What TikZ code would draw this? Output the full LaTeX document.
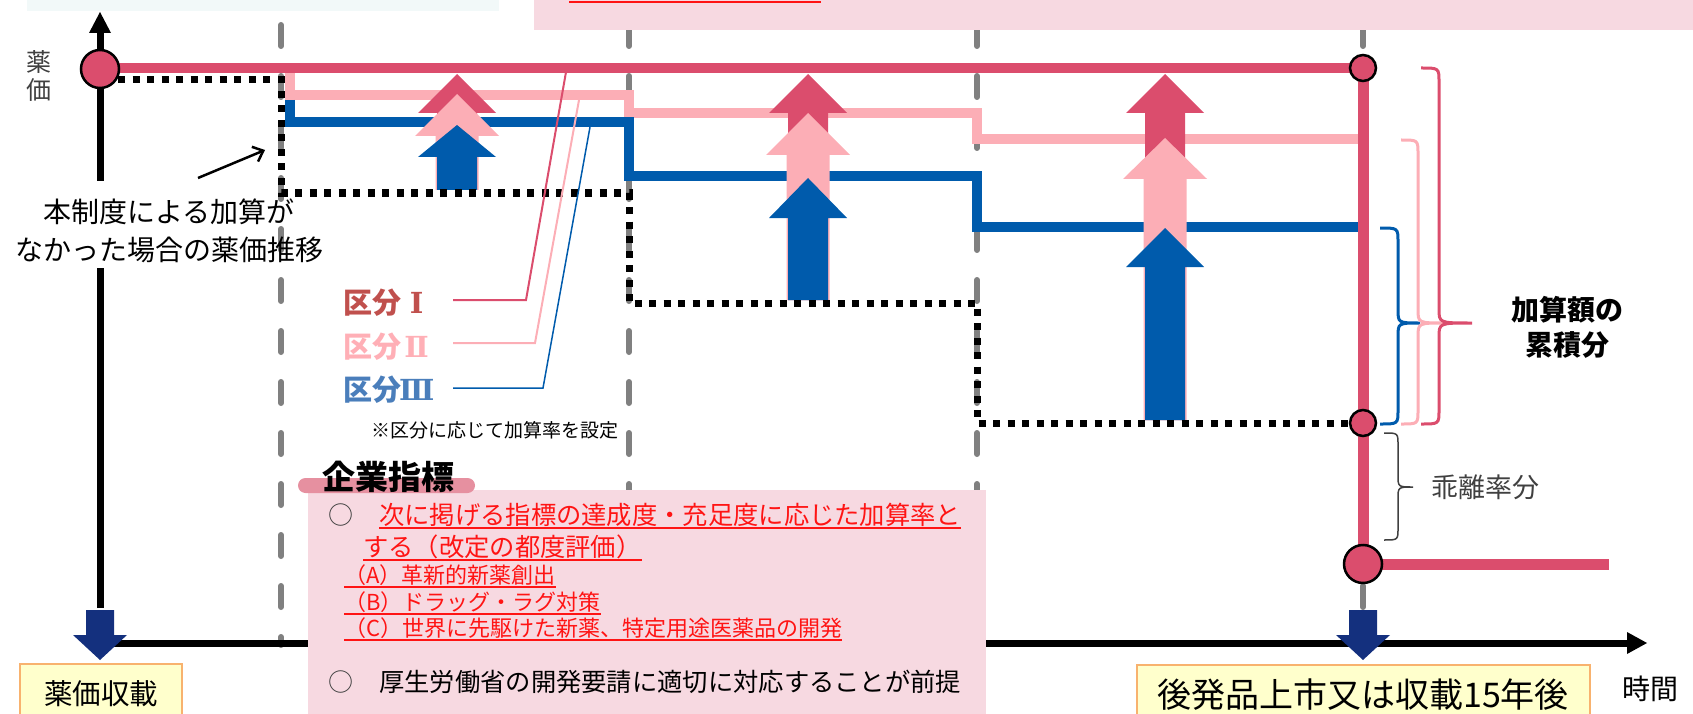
\documentclass[tikz,border=0pt]{standalone}
\usepackage{fontspec}
\setmainfont{Noto Sans CJK JP}
\newfontfamily\numfont{DejaVu Serif}
\usetikzlibrary{arrows.meta}
\definecolor{cRed}{RGB}{219,77,109}
\definecolor{cPink}{RGB}{252,174,182}
\definecolor{cBlue}{RGB}{0,91,172}
\definecolor{cNavy}{RGB}{20,48,126}
\definecolor{cGray}{RGB}{128,128,128}
\definecolor{cBoxPink}{RGB}{247,217,225}
\definecolor{cTab}{RGB}{230,144,160}
\definecolor{cCyan}{RGB}{242,249,249}
\definecolor{cYellow}{RGB}{255,255,204}
\definecolor{cOrange}{RGB}{248,178,110}
\definecolor{cLblRed}{RGB}{192,80,77}
\definecolor{cLblPink}{RGB}{255,175,182}
\definecolor{cLblBlue}{RGB}{74,126,187}
\definecolor{cTxtRed}{RGB}{255,20,20}
\definecolor{cDark}{RGB}{64,64,64}
\newcommand{\myfs}[2]{\fontsize{#1pt}{#2pt}\selectfont}
\newcommand{\rnum}[1]{\makebox[31pt][c]{\numfont\bfseries #1}}
\newcommand{\stackarrow}[7]{%
  \fill[#7] (#1-#6,#4) -- (#1-#6,#3) -- (#1-#5,#3) -- (#1,#2) -- (#1+#5,#3) -- (#1+#6,#3) -- (#1+#6,#4) -- cycle;}
\newcommand{\mybrace}[8]{%
  \draw[#1] (#2,#5) .. controls (#3,#5) .. (#3,#5+#8) -- (#3,#6-#8) .. controls (#3,#6) .. (#4,#6)
    .. controls (#3,#6) .. (#3,#6+#8) -- (#3,#7-#8) .. controls (#3,#7) .. (#2,#7);}
\tikzset{
  guide/.style={cGray, line width=6pt, line cap=round, dash pattern=on 21pt off 30pt},
  stepline/.style={line width=10pt},
  dotline/.style={black, line width=7pt, dash pattern=on 7pt off 7.5pt},
  dot/.style={fill=cRed, draw=black, line width=2.5pt},
  leader/.style={line width=2pt},
  lbl/.style={font={\myfs{29}{32}\bfseries}, anchor=west, inner sep=0pt},
  ybox/.style={fill=cYellow, draw=cOrange, line width=2pt, inner sep=0pt},
  bodytxt/.style={anchor=west, inner sep=0pt},
}
\begin{document}
\begin{tikzpicture}[x=1pt,y=-1pt]
\useasboundingbox (0,0) rectangle (1693,714);
% dashed guide lines
\foreach \gx in {281,629,977,1363} \draw[guide] (\gx,25) -- (\gx,645);
% top boxes
\fill[cCyan] (27,0) rectangle (499,11);
\fill[cBoxPink] (534,0) rectangle (1693,30);
\draw[cTxtRed, line width=1.5pt] (569,2) -- (821,2);
% axes
\draw[line width=7pt] (100,608) -- (100,268);
\draw[line width=7pt] (100,181) -- (100,30);
\fill (89,33) -- (100,12) -- (111,33) -- cycle;
\draw[line width=7pt] (100,643) -- (1630,643);
\fill (1627,632) -- (1647,643) -- (1627,654) -- cycle;
% step lines
\draw[stepline, cPink] (290,73) -- (290,95) -- (629,95) -- (629,113) -- (977,113) -- (977,139) -- (1358,139);
\draw[stepline, cBlue] (290,100) -- (290,122) -- (629,122) -- (629,176) -- (977,176) -- (977,227) -- (1358,227);
\draw[stepline, cRed] (100,68) -- (1363,68);
\draw[cRed, line width=11pt] (1363,68) -- (1363,564) -- (1609,564);
% up arrows
\stackarrow{457}{74}{113}{190}{39}{20}{cRed}
\stackarrow{457}{94}{136}{190}{42}{21.5}{cPink}
\stackarrow{457}{125}{157}{190}{39}{20}{cBlue}
\stackarrow{808}{74}{113}{300}{39}{20}{cRed}
\stackarrow{808}{113}{155}{300}{42}{21.5}{cPink}
\stackarrow{808}{178}{218}{300}{39}{20}{cBlue}
\stackarrow{1165}{74}{113}{420}{39}{20}{cRed}
\stackarrow{1165}{138}{179}{420}{42}{21.5}{cPink}
\stackarrow{1165}{228}{267}{420}{39}{20}{cBlue}
% dotted no-addition path
\draw[dotline] (118,80) -- (281,80) -- (281,193) -- (629,193) -- (629,303) -- (977,303) -- (977,423) -- (1350,423);
% circles
\filldraw[dot] (100,69) circle[radius=19];
\filldraw[dot] (1363,68) circle[radius=13];
\filldraw[dot] (1363,423) circle[radius=13];
\filldraw[dot] (1363,564) circle[radius=19];
% navy arrows
\stackarrow{100}{660}{635}{610}{27}{14}{cNavy}
\stackarrow{1363}{660}{635}{610}{27}{14}{cNavy}
% labels and leaders
\node[lbl, text=cLblRed] (k1) at (343,303) {区分\rnum{Ⅰ}};
\node[lbl, text=cLblPink] (k2) at (343,347) {区分\rnum{Ⅱ}};
\node[lbl, text=cLblBlue] (k3) at (343,390) {区分\rnum{Ⅲ}};
\coordinate (s1) at (453,300); \coordinate (b1) at (526,300); \coordinate (e1) at (566,72);
\coordinate (s2) at (453,343); \coordinate (b2) at (535,343); \coordinate (e2) at (579,100);
\coordinate (s3) at (453,388); \coordinate (b3) at (543,388); \coordinate (e3) at (590,127);
\draw[leader, cRed] (s1) -- (b1) -- (e1);
\draw[leader, cPink] (s2) -- (b2) -- (e2);
\draw[leader, cBlue, line width=1.5pt] (s3) -- (b3) -- (e3);
\node[font={\myfs{19}{22}}] (note) at (495,430) {※区分に応じて加算率を設定};
% left texts
\node[font={\myfs{25}{28}}, align=center, text=cDark] (yaxis) at (39,76) {薬\\価};
\node[font={\myfs{28}{38}}, align=center] (expl) at (169,231) {本制度による加算が\\なかった場合の薬価推移};
\coordinate (a0) at (198,178); \coordinate (a1) at (265,150);
\draw[line width=2.5pt, -{Straight Barb[length=9pt,width=16pt]}] (a0) -- (a1);
% braces
\mybrace{cBlue, line width=3pt}{1380}{1398}{1420}{228}{323}{424}{14}
\mybrace{cPink, line width=3pt}{1401}{1418}{1445}{140}{323}{424}{14}
\mybrace{cRed, line width=3pt}{1421}{1439}{1472}{68}{323}{424}{14}
\mybrace{cDark, line width=1.5pt}{1384}{1398}{1413}{433}{487}{540}{12}
\node[font={\myfs{28}{35}\bfseries}, align=center] (cum) at (1567,327) {加算額の\\累積分};
\node[font={\myfs{27}{30}}, anchor=west, inner sep=0pt, text=cDark] (kairi) at (1431,487) {乖離率分};
\node[font={\myfs{28}{30}}] (time) at (1650,689) {時間};
% bottom boxes
\node[ybox, minimum width=162pt, minimum height=60pt, font={\myfs{28.5}{30}}] (start) at (101,694) {薬価収載};
\node[ybox, minimum width=453pt, minimum height=59pt, font={\myfs{34}{36}}] (end) at (1363,694.5) {後発品上市又は収載15年後};
% company indicator box
\fill[cBoxPink] (308,490) rectangle (986,714);
\fill[cTab, rounded corners=7.5pt] (298,478) rectangle (475,493);
\node[font={\myfs{33}{36}\bfseries}] (title) at (388,477) {企業指標};
\node[font={\myfs{25}{28}}, text=cDark] (o1) at (341,515) {○};
\node[font={\myfs{25}{28}}, text=cDark] (o2) at (341,682) {○};
\node[bodytxt, font={\myfs{25.3}{28}}, text=cTxtRed] (l1) at (379,515) {次に掲げる指標の達成度・充足度に応じた加算率と};
\node[bodytxt, font={\myfs{25.3}{28}}, text=cTxtRed] (l2) at (363,547) {する（改定の都度評価）};
\node[bodytxt, font={\myfs{22}{24}}, text=cTxtRed] (l3) at (344,575) {（A）革新的新薬創出};
\node[bodytxt, font={\myfs{22}{24}}, text=cTxtRed] (l4) at (344,602) {（B）ドラッグ・ラグ対策};
\node[bodytxt, font={\myfs{22}{24}}, text=cTxtRed] (l5) at (344,628) {（C）世界に先駆けた新薬、特定用途医薬品の開発};
\node[bodytxt, font={\myfs{25.3}{28}}] (l6) at (379,682) {厚生労働省の開発要請に適切に対応することが前提};
\foreach \n in {l1,l2,l3,l4,l5}
  \draw[cTxtRed, line width=1.5pt] ([yshift=-3.5pt]\n.base west) -- ([yshift=-3.5pt]\n.base east);
\end{tikzpicture}
\end{document}
